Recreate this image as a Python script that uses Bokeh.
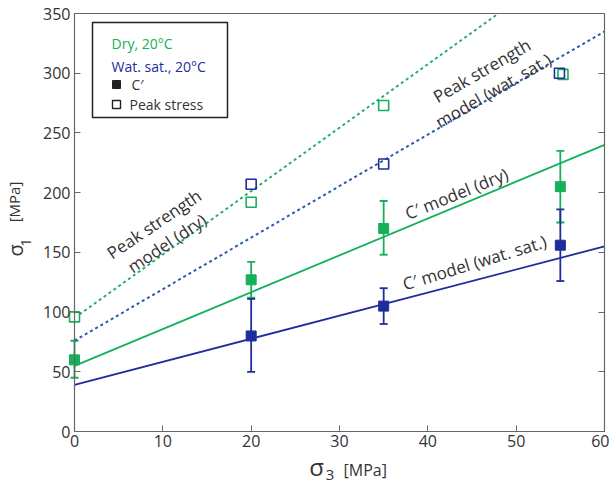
import math
from bokeh.plotting import figure
from bokeh.models import Range1d, LinearAxis, Label, Whisker, ColumnDataSource, TeeHead, FixedTicker
from bokeh.embed import file_html
from bokeh.resources import INLINE

# ---------------- data ----------------
sigma3 = [0, 20, 35, 55]
c_dry = [60, 127, 170, 205]
c_dry_lo = [45, 112, 148, 175]
c_dry_hi = [76, 142, 193, 235]
c_wet_x = [20, 35, 55]
c_wet = [80, 105, 156]
c_wet_lo = [50, 90, 126]
c_wet_hi = [111, 120, 186]
peak_dry_x = [0, 20, 35, 55.3]
peak_dry = [96, 192, 273, 299]
peak_wet_x = [20, 35, 54.9]
peak_wet = [207, 224, 300]
model_x = [0, 60]
model_c_dry = [55, 240]
model_c_wet = [39, 155]
model_peak_dry_x = [0, 48]
model_peak_dry = [95, 350]
model_peak_wet = [76, 335]
x_ticks = [0, 10, 20, 30, 40, 50, 60]
y_ticks = [0, 50, 100, 150, 200, 250, 300, 350]
X_MIN, X_MAX = 0, 60
Y_MIN, Y_MAX = 0, 350

GREEN = "#17b05a"
GREEN_DOT = "#20ad6a"
BLUE = "#1f2c9c"
BLUE_DOT = "#2f58b5"
TXT = "#333333"
AX = "#666666"
FONT = "Open Sans"

W, H = 609, 482
FL, FR, FT, FB = 74, 604, 13, 431  # frame of the axes box, in pixels
sx = (FR - FL) / (X_MAX - X_MIN)
sy = (FB - FT) / (Y_MAX - Y_MIN)
xr = Range1d(X_MIN - FL / sx, X_MAX + (W - FR) / sx)
yr = Range1d(Y_MIN - (H - FB) / sy, Y_MAX + FT / sy)

p = figure(width=W, height=H, output_backend="svg", toolbar_location=None,
           x_range=xr, y_range=yr, min_border=0)
p.xgrid.visible = False
p.ygrid.visible = False
p.outline_line_color = None
p.background_fill_color = "white"
p.border_fill_color = "white"

def style_axis(ax, ticks, show_labels=True, show_ticks=True):
    ax.ticker = FixedTicker(ticks=ticks)
    ax.major_tick_in = 6 if show_ticks else 0
    ax.major_tick_out = 0
    ax.minor_tick_in = 0
    ax.minor_tick_out = 0
    ax.axis_line_color = AX
    ax.axis_line_width = 1.2
    ax.major_tick_line_color = AX
    ax.major_label_text_font = FONT
    ax.major_label_text_font_size = "16px"
    ax.major_label_text_color = TXT
    if not show_labels:
        ax.major_label_overrides = {t: "" for t in ticks}

bx = p.xaxis[0]
style_axis(bx, x_ticks)
bx.fixed_location = Y_MIN
bx.bounds = (X_MIN, X_MAX)
bx.major_label_standoff = 3

ly = p.yaxis[0]
style_axis(ly, y_ticks)
ly.fixed_location = X_MIN
ly.bounds = (Y_MIN, Y_MAX)
ly.major_label_standoff = 4

ry = LinearAxis()
style_axis(ry, y_ticks, show_labels=False)
ry.fixed_location = X_MAX
ry.bounds = (Y_MIN, Y_MAX)
p.add_layout(ry, "right")

tx = LinearAxis()
style_axis(tx, [], show_labels=False, show_ticks=False)
tx.fixed_location = Y_MAX
tx.bounds = (X_MIN, X_MAX)
p.add_layout(tx, "above")

# model lines
p.line(model_peak_dry_x, model_peak_dry, color=GREEN_DOT, line_width=2, line_dash="3 3")
p.line(model_x, model_peak_wet, color=BLUE_DOT, line_width=2, line_dash="3 3")
p.line(model_x, model_c_dry, color=GREEN, line_width=1.8)
p.line(model_x, model_c_wet, color=BLUE, line_width=1.8)

# error bars
src_d = ColumnDataSource(dict(x=sigma3, lo=c_dry_lo, hi=c_dry_hi))
src_w = ColumnDataSource(dict(x=c_wet_x, lo=c_wet_lo, hi=c_wet_hi))
for src, col in ((src_d, GREEN), (src_w, BLUE)):
    w = Whisker(source=src, base="x", lower="lo", upper="hi", dimension="height",
                line_color=col, line_width=1.8,
                upper_head=TeeHead(size=8, line_color=col, line_width=1.8),
                lower_head=TeeHead(size=8, line_color=col, line_width=1.8))
    p.add_layout(w)

# markers
p.scatter(sigma3, c_dry, marker="square", size=10, fill_color=GREEN, line_color=GREEN)
p.scatter(c_wet_x, c_wet, marker="square", size=10, fill_color=BLUE, line_color=BLUE)
p.scatter(peak_dry_x, peak_dry, marker="square", size=10, fill_color="white", line_color=GREEN, line_width=1.6)
p.scatter(peak_wet_x, peak_wet, marker="square", size=10, fill_color=None, line_color=BLUE, line_width=1.6)

# annotations (positions given in pixels, converted through the scales)
def px(x):
    return xr.start + x / sx

def py(y):
    return yr.start + (H - y) / sy

def lab(x, y, text, angle_deg, size="17px", color=TXT, align="center", baseline="middle"):
    p.add_layout(Label(x=px(x), y=py(y), text=text, angle=math.radians(angle_deg),
                       text_font=FONT, text_font_size=size, text_color=color,
                       text_align=align, text_baseline=baseline, text_line_height=1.0))

lab(160, 233, "Peak strength\nmodel (dry)", 34)
lab(487, 80, "Peak strength\nmodel (wat. sat.)", 30)
lab(456, 193, "C\u2032 model (dry)", 22)
lab(474, 262, "C\u2032 model (wat. sat.)", 17)

# legend box
p.quad(left=[px(92)], right=[px(227)], top=[py(22)], bottom=[py(117)], fill_color="white",
       line_color="#222222", line_width=1.5)
lab(111, 43, "Dry, 20\u00b0C", 0, size="14px", color=GREEN, align="left")
lab(111, 66, "Wat. sat., 20\u00b0C", 0, size="14px", color=BLUE, align="left")
p.scatter([px(116)], [py(84)], marker="square", size=8, fill_color="#222222", line_color="#222222")
lab(131, 84, "C\u2032", 0, size="14px", color=TXT, align="left")
p.scatter([px(116)], [py(104)], marker="square", size=8, fill_color="white", line_color="#222222", line_width=1.4)
lab(129, 104, "Peak stress", 0, size="14px", color=TXT, align="left")

# axis labels
lab(316, 466, "\u03c3", 0, size="24px")
lab(329.5, 474, "3", 0, size="15px")
lab(343, 469, "[MPa]", 0, size="16px", align="left")
lab(15, 250, "\u03c3", 90, size="20px")
lab(25.5, 242, "1", 90, size="14px")
lab(13, 201.5, "[MPa]", 90, size="15px")

open("out.html", "w").write(file_html(p, INLINE))
